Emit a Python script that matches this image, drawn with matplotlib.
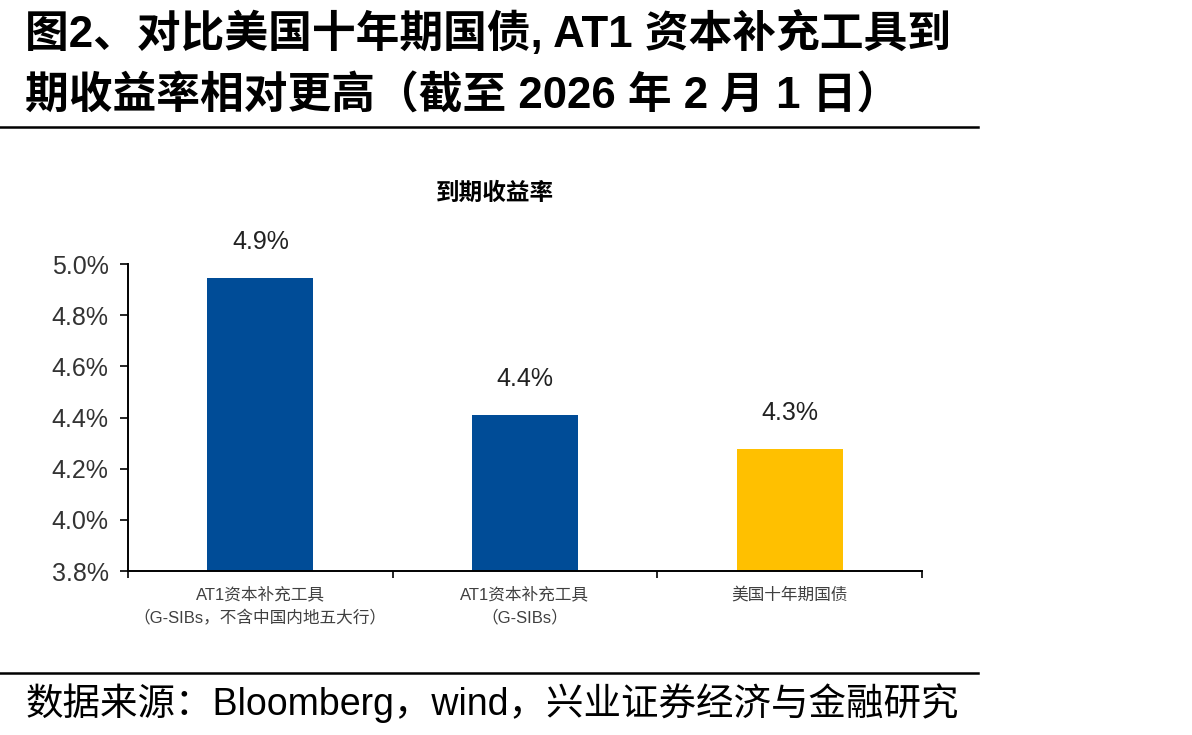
import matplotlib.pyplot as plt
from matplotlib.lines import Line2D
from matplotlib.ticker import FuncFormatter, FixedLocator

plt.rcParams['font.family'] = ['Liberation Sans', 'Noto Sans CJK SC', 'DejaVu Sans']

# Data
categories = [
    "AT1资本补充工具\n（G-SIBs，不含中国内地五大行）",
    "AT1资本补充工具\n（G-SIBs）",
    "美国十年期国债",
]
yields = [4.945, 4.41, 4.275]
value_labels = ["4.9%", "4.4%", "4.3%"]
bar_colors = ["#004C97", "#004C97", "#FFC000"]
yticks = [3.8, 4.0, 4.2, 4.4, 4.6, 4.8, 5.0]


def generate_chart():

    fig = plt.figure(figsize=(11.92, 7.35), dpi=100)

    # Header and footer
    fig.text(0.021, 0.955, "图2、对比美国十年期国债, AT1 资本补充工具到",
             fontsize=31.5, fontweight="bold", va="center", ha="left")
    fig.text(0.021, 0.868, "期收益率相对更高（截至 2026 年 2 月 1 日）",
             fontsize=31.5, fontweight="bold", va="center", ha="left")
    fig.add_artist(Line2D([0, 0.8205], [0.827, 0.827], color="black", lw=1.8))
    fig.add_artist(Line2D([0, 0.8205], [0.084, 0.084], color="black", lw=1.8))
    fig.text(0.021, 0.043, "数据来源：Bloomberg，wind，兴业证券经济与金融研究",
             fontsize=27, va="center", ha="left")

    ax = fig.add_axes([0.1074, 0.2231, 0.666, 0.4177])

    x = list(range(len(categories)))
    bars = ax.bar(x, yields, width=0.4, color=bar_colors, zorder=2)

    for rect, lab in zip(bars, value_labels):
        ax.annotate(lab, (rect.get_x() + rect.get_width() / 2, rect.get_height()),
                    xytext=(0, 26), textcoords="offset points",
                    ha="center", va="center", fontsize=18, color="#222222")

    ax.set_ylim(3.8, 5.0)
    ax.set_xlim(-0.5, 2.5)
    ax.set_yticks(yticks)
    ax.yaxis.set_major_formatter(FuncFormatter(lambda v, p: f"{v:.1f}%"))
    ax.tick_params(axis="y", labelsize=18, length=6, width=1.2,
                   direction="out", labelcolor="#333333", pad=8)

    ax.set_xticks(x)
    ax.set_xticklabels(categories, fontsize=12, color="#404040", linespacing=1.6)
    ax.tick_params(axis="x", which="major", length=0, pad=11)
    ax.xaxis.set_minor_locator(FixedLocator([-0.5, 0.5, 1.5, 2.5]))
    ax.tick_params(axis="x", which="minor", length=5, width=1.2, direction="out")

    for side in ["top", "right"]:
        ax.spines[side].set_visible(False)
    for side in ["left", "bottom"]:
        ax.spines[side].set_linewidth(1.4)
        ax.spines[side].set_zorder(3)

    fig.text(0.415, 0.737, "到期收益率", fontsize=17, fontweight="bold",
             ha="center", va="center")

    fig.savefig("out.png", dpi=100)


if __name__ == "__main__":

    generate_chart()
